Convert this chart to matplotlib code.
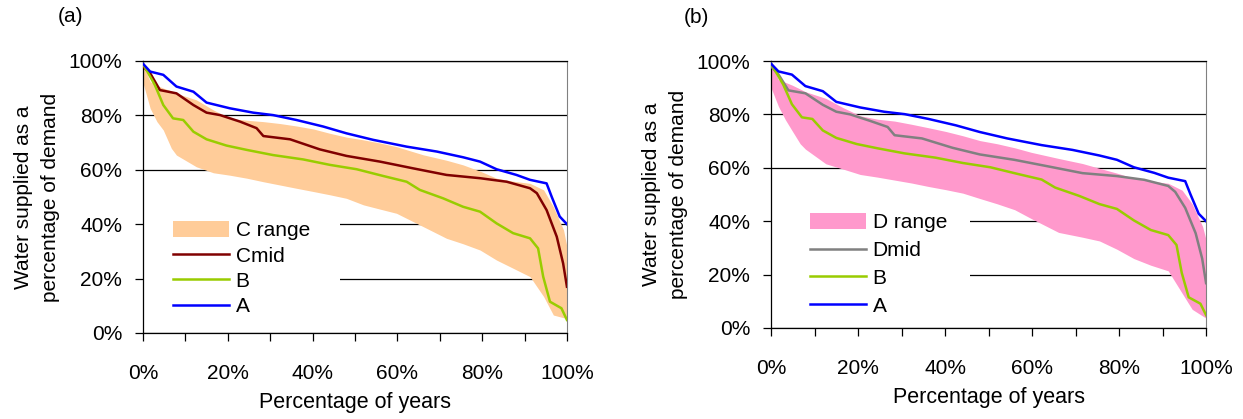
import matplotlib
matplotlib.use('Agg')
import matplotlib.pyplot as plt
from matplotlib.patches import Rectangle
from matplotlib.ticker import MultipleLocator, FuncFormatter

plt.rcParams['font.family'] = ['Liberation Sans', 'DejaVu Sans']

# curve A (same in both panels)
a_x = [0, 1.7, 4.8, 7.9, 11.9, 15.0, 20.5, 26.0, 30.7, 36.2, 42.5, 48.0, 54.3,
       62.2, 69.3, 75.5, 79.5, 83.4, 88.1, 91.3, 95.2, 96.4, 98.3, 100]
a_y = [99, 96.1, 94.9, 90.6, 88.7, 84.7, 82.6, 81.0, 80.1, 78.3, 75.9, 73.4, 71.0,
       68.5, 66.7, 64.6, 63.0, 60.2, 58.1, 56.3, 55.0, 50.1, 42.8, 40.0]

# curve B (same in both panels)
b_x = [0, 2.8, 4.8, 7.1, 9.5, 11.9, 15.0, 19.7, 24.5, 30.7, 37.8, 44.1, 50.4,
       56.7, 62.2, 65.3, 70.8, 75.5, 79.5, 83.4, 87.3, 91.3, 93.2, 94.4, 96.0, 98.7, 100]
b_y = [99, 91.2, 83.8, 78.9, 78.3, 74.0, 71.2, 68.9, 67.3, 65.4, 63.8, 61.8, 60.2,
       57.7, 55.6, 52.6, 49.5, 46.4, 44.6, 40.3, 36.7, 34.8, 31.1, 20.7, 11.5, 9.1, 4.8]

# mid curves
mid_x = [0, 1.7, 4.0, 7.9, 11.9, 15.0, 18.2, 22.9, 26.8, 28.4, 34.7, 41.7, 48.0,
         55.9, 63.8, 71.6, 79.5, 85.8, 91.3, 92.9, 95.2, 97.6, 99.1, 100]
cmid_y = [98, 95.5, 89.3, 88.1, 83.8, 81.0, 80.1, 77.7, 75.3, 72.4, 71.2, 67.5, 65.1,
          63.0, 60.5, 58.1, 56.9, 55.6, 53.2, 51.4, 45.2, 35.4, 25.6, 17.0]
dmid_y = [98, 95.0, 89.0, 87.9, 83.6, 81.0, 80.0, 77.5, 75.3, 72.2, 71.0, 67.5, 65.0,
          63.0, 60.5, 58.0, 56.9, 55.5, 53.2, 51.0, 45.0, 35.5, 26.0, 16.8]

# ranges
rng_x = [0, 1.7, 3.3, 4.8, 6.7, 7.9, 12.6, 16.6, 20.5, 24.5, 28.4, 32.3, 36.2, 40.2,
         44.1, 48.0, 52.0, 56.0, 59.8, 66.1, 71.6, 75.5, 79.5, 83.4, 87.3, 91.3,
         94.5, 96.8, 99.2, 100]
c_hi = [99, 92.4, 91, 90, 89, 88.1, 85.7, 82, 78.9, 78.2, 77.7, 77, 76.1, 75,
        73.4, 72, 71, 69.8, 68.5, 65.5, 63.5, 61.8, 59.5, 56.9, 55.8, 55,
        52.6, 46.4, 37.9, 31.7]
c_lo = [92, 82.6, 77.7, 74.6, 67.9, 65.4, 61.1, 58.9, 58, 56.9, 55.6, 54.4, 53.2, 52,
        50.8, 49.5, 47.1, 45.5, 44, 39.1, 34.8, 32.8, 30.5, 26.8, 23.8, 20.7,
        13.4, 6.6, 5.6, 5.5]
d_hi = [99, 93, 92, 91, 89.5, 88.5, 86, 82.5, 79.5, 78.2, 77.5, 76.3, 75, 73.6,
        72, 70.2, 69, 67.5, 65.8, 63.5, 61.6, 59.8, 58, 56.1, 55, 54.2,
        51.6, 46.5, 38, 33]
d_lo = [90, 83, 78, 74, 69, 67, 61.5, 59.5, 57.5, 56.5, 55.4, 54.3, 53, 51.8,
        50.5, 48.5, 46.5, 44.3, 41, 35.8, 34, 32.6, 29.5, 26, 23.5, 21.4,
        13, 7, 4.5, 3.7]

pct = FuncFormatter(lambda v, p: '%d%%' % round(v))

fig = plt.figure(figsize=(12.43, 4.19), dpi=100)


def panel(rect, tag, lo, hi, fill_col, rng_name, mid_y, mid_col, mid_name,
          leg_xy, leg_sp, box_w):
    ax = fig.add_axes(rect)
    ax.set_xlim(0, 100)
    ax.set_ylim(0, 100)
    ax.set_axisbelow(True)
    ax.yaxis.grid(True, color='black', lw=0.9)
    ax.add_patch(Rectangle((0, 0.03), box_w, 0.45, transform=ax.transAxes,
                           facecolor='white', edgecolor='none', zorder=1))
    ax.fill_between(rng_x, lo, hi, color=fill_col, lw=0, zorder=2, label=rng_name)
    ax.plot(mid_x, mid_y, color=mid_col, lw=1.8, zorder=3, label=mid_name)
    ax.plot(b_x, b_y, color='#99CC00', lw=1.8, zorder=3, label='B')
    ax.plot(a_x, a_y, color='#0000FF', lw=1.8, zorder=4, label='A')

    ax.xaxis.set_major_locator(MultipleLocator(20))
    ax.xaxis.set_minor_locator(MultipleLocator(10))
    ax.yaxis.set_major_locator(MultipleLocator(20))
    ax.xaxis.set_major_formatter(pct)
    ax.yaxis.set_major_formatter(pct)
    ax.tick_params(axis='x', which='both', length=6, width=0.9, pad=16, labelsize=15)
    ax.tick_params(axis='y', length=6, width=0.9, pad=9, labelsize=15)
    for s in ['left', 'bottom', 'top']:
        ax.spines[s].set_linewidth(0.9)
    ax.spines['right'].set_color('#808080')
    ax.spines['right'].set_linewidth(0.8)

    ax.set_xlabel('Percentage of years', fontsize=15.5, labelpad=7)
    ax.set_ylabel('Water supplied as a\npercentage of demand', fontsize=15,
                  labelpad=6, linespacing=1.55)
    ax.text(-0.172, 1.162, tag, transform=ax.transAxes, fontsize=15,
            ha='center', va='center')

    ax.legend(loc='upper left', bbox_to_anchor=leg_xy, frameon=False, fontsize=15,
              borderpad=0, borderaxespad=0, handlelength=2.7, handleheight=0.8,
              labelspacing=leg_sp, handletextpad=0.3)
    return ax


panel([0.1150, 0.2053, 0.3411, 0.6492], '(a)', c_lo, c_hi, '#FFCC99', 'C range',
      cmid_y, '#800000', 'Cmid', (0.071, 0.412), 0.30, 0.465)
panel([0.6203, 0.2172, 0.3500, 0.6372], '(b)', d_lo, d_hi, '#FF99CC', 'D range',
      dmid_y, '#808080', 'Dmid', (0.09, 0.43), 0.41, 0.457)

fig.savefig('out.png', dpi=100)
